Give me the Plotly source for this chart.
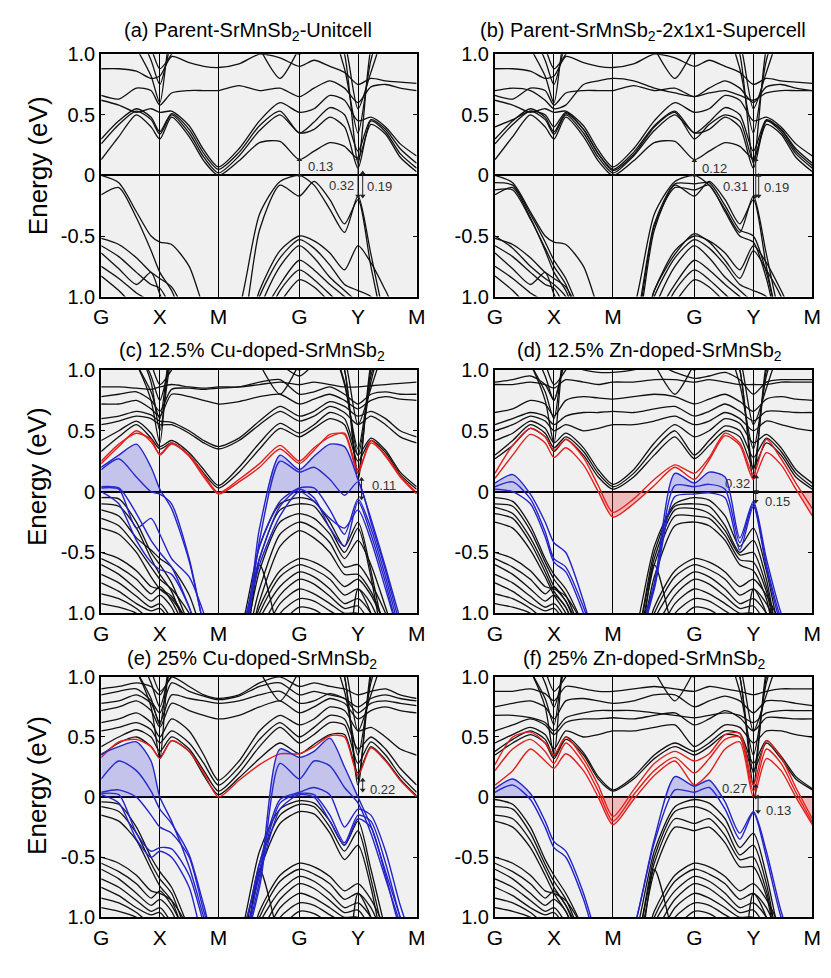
import plotly.graph_objects as go

# k-path positions G X M G Y M (path length units)
k = [0, 0.3, 0.6, 0.85, 1.0, 1.2, 1.5, 1.75, 2.0, 2.35, 2.7, 3.05,
     3.38, 3.63, 3.9, 4.15, 4.38, 4.6, 4.85, 5.1, 5.38]
sym_k = [0, 1.0, 2.0, 3.38, 4.38, 5.38]
sym_labels = ['G', 'X', 'M', 'G', 'Y', 'M']
e_ticks = [-1, -0.5, 0, 0.5, 1]
e_ticktext = ['1.0', '-0.5', '0', '0.5', '1.0']

titles = ['(a) Parent-SrMnSb<sub>2</sub>-Unitcell',
          '(b) Parent-SrMnSb<sub>2</sub>-2x1x1-Supercell',
          '(c) 12.5% Cu-doped-SrMnSb<sub>2</sub>',
          '(d) 12.5% Zn-doped-SrMnSb<sub>2</sub>',
          '(e) 25% Cu-doped-SrMnSb<sub>2</sub>',
          '(f) 25% Zn-doped-SrMnSb<sub>2</sub>']

# steep bands around X and Y (seen in every panel)
spikes = [
    [1.40, 1.30, 1.05, 0.82, 0.60, 1.20, 1.40, 1.40, 1.40, 1.40, 1.40, 1.40, 1.40, 1.40, 1.30, 1.00, 0.10, 1.05, 1.40, 1.40, 1.40],
    [1.40, 1.40, 1.20, 0.95, 0.75, 1.10, 1.40, 1.40, 1.40, 1.40, 1.20, 1.10, 1.00, 1.10, 1.20, 0.88, 0.35, 0.95, 1.30, 1.40, 1.40],
    [1.40, 1.40, 1.30, 1.05, 0.88, 1.00, 1.30, 1.40, 1.40, 1.40, 1.05, 0.80, 1.05, 1.25, 1.30, 1.10, 0.55, 0.85, 1.20, 1.40, 1.40],
]

# parent unit cell
a_black = [
    [0.13, 0.32, 0.50, 0.40, 0.30, 0.48, 0.32, 0.12, 0.00, 0.12, 0.27, 0.28, 0.13, 0.20, 0.27, 0.24, 0.14, 0.42, 0.34, 0.15, 0.03],
    [0.26, 0.42, 0.53, 0.46, 0.34, 0.50, 0.35, 0.15, 0.02, 0.16, 0.37, 0.50, 0.35, 0.38, 0.48, 0.40, 0.06, 0.45, 0.36, 0.18, 0.06],
    [0.30, 0.45, 0.55, 0.48, 0.36, 0.51, 0.38, 0.18, 0.05, 0.19, 0.41, 0.53, 0.35, 0.44, 0.56, 0.50, 0.20, 0.46, 0.38, 0.22, 0.10],
    [0.62, 0.58, 0.52, 0.55, 0.52, 0.53, 0.41, 0.21, 0.07, 0.22, 0.45, 0.60, 0.52, 0.55, 0.66, 0.62, 0.45, 0.48, 0.40, 0.26, 0.16],
    [0.66, 0.63, 0.72, 0.70, 0.58, 0.68, 0.70, 0.70, 0.70, 0.74, 0.70, 0.72, 0.65, 0.72, 0.78, 0.72, 0.60, 0.73, 0.75, 0.72, 0.70],
    [0.88, 0.88, 0.86, 0.80, 0.82, 0.98, 0.93, 0.90, 0.89, 0.92, 1.00, 0.97, 0.90, 0.95, 0.90, 0.85, 0.75, 0.80, 0.78, 0.77, 0.76],
    [0.00, -0.06, -0.30, -0.50, -0.55, -0.57, -0.75, -1.10, -1.40, -1.10, -0.32, -0.05, 0.00, -0.08, -0.28, -0.47, -0.17, -0.65, -1.20, -1.50, -1.60],
    [-0.16, -0.10, -0.35, -0.62, -0.80, -0.95, -1.30, -1.50, -1.60, -1.40, -0.45, -0.08, -0.17, -0.05, -0.20, -0.40, -0.20, -0.75, -1.30, -1.60, -1.60],
    [-0.52, -0.57, -0.68, -0.80, -0.85, -0.92, -1.20, -1.50, -1.60, -1.50, -0.95, -0.62, -0.50, -0.54, -0.64, -0.78, -0.58, -0.72, -0.95, -1.20, -1.40],
    [-0.58, -0.67, -0.80, -0.90, -0.93, -1.10, -1.40, -1.60, -1.60, -1.60, -1.00, -0.68, -0.53, -0.60, -0.74, -0.90, -0.95, -1.00, -1.20, -1.40, -1.60],
    [-0.64, -0.77, -0.90, -0.80, -0.98, -1.20, -1.50, -1.60, -1.60, -1.60, -1.10, -0.75, -0.58, -0.68, -0.84, -0.95, -1.05, -1.20, -1.40, -1.60, -1.60],
    [-0.75, -0.85, -0.97, -1.05, -1.20, -1.40, -1.60, -1.60, -1.60, -1.60, -1.20, -0.90, -0.70, -0.78, -0.90, -1.00, -1.10, -1.30, -1.50, -1.60, -1.60],
    [-0.83, -0.95, -1.10, -1.20, -1.30, -1.50, -1.60, -1.60, -1.60, -1.60, -1.30, -0.95, -0.78, -0.86, -0.98, -1.10, -1.20, -1.40, -1.60, -1.60, -1.60],
    [-1.60, -1.60, -1.60, -1.60, -1.60, -1.60, -1.60, -1.60, -1.60, -1.60, -1.30, -1.05, -0.86, -0.92, -1.05, -1.20, -1.30, -1.50, -1.60, -1.60, -1.60],
]

# extra folded bands of the 2x1x1 supercell
b_extra = [
    [-0.06, -0.08, -0.32, -0.55, -0.70, -0.85, -1.20, -1.50, -1.60, -1.30, -0.40, -0.07, -0.07, -0.06, -0.25, -0.45, -0.50, -0.80, -1.30, -1.60, -1.60],
    [-0.12, -0.12, -0.36, -0.60, -0.75, -0.90, -1.30, -1.50, -1.60, -1.35, -0.42, -0.10, -0.12, -0.08, -0.30, -0.50, -0.55, -0.85, -1.35, -1.60, -1.60],
    [0.40, 0.46, 0.53, 0.50, 0.40, 0.52, 0.38, 0.18, 0.04, 0.17, 0.40, 0.52, 0.30, 0.42, 0.50, 0.45, 0.12, 0.45, 0.38, 0.20, 0.08],
    [0.70, 0.72, 0.70, 0.62, 0.55, 0.58, 0.75, 0.78, 0.80, 0.78, 0.72, 0.68, 0.65, 0.68, 0.70, 0.66, 0.62, 0.68, 0.70, 0.70, 0.70],
    [-0.50, -0.60, -0.75, -0.85, -0.90, -1.00, -1.30, -1.60, -1.60, -1.60, -0.95, -0.65, -0.48, -0.55, -0.70, -0.85, -0.62, -0.78, -1.00, -1.30, -1.60],
]

# deep valence bands common to the doped cells
deep_vb = [
    [-0.50, -0.55, -0.65, -0.78, -0.80, -0.86, -1.10, -1.40, -1.60, -1.50, -0.95, -0.65, -0.55, -0.58, -0.66, -0.78, -0.72, -0.85, -1.10, -1.40, -1.60],
    [-0.55, -0.62, -0.72, -0.84, -0.78, -0.90, -1.20, -1.50, -1.60, -1.55, -1.00, -0.70, -0.60, -0.64, -0.72, -0.85, -0.80, -0.92, -1.20, -1.50, -1.60],
    [-0.60, -0.68, -0.80, -0.90, -0.85, -0.95, -1.30, -1.60, -1.60, -1.60, -1.05, -0.78, -0.66, -0.70, -0.80, -0.92, -0.88, -1.00, -1.30, -1.60, -1.60],
    [-0.68, -0.75, -0.86, -0.95, -0.92, -1.05, -1.40, -1.60, -1.60, -1.60, -1.15, -0.85, -0.72, -0.76, -0.86, -0.96, -0.94, -1.10, -1.40, -1.60, -1.60],
    [-0.75, -0.82, -0.92, -0.98, -0.96, -1.10, -1.50, -1.60, -1.60, -1.60, -1.25, -0.92, -0.80, -0.84, -0.92, -1.00, -1.00, -1.20, -1.50, -1.60, -1.60],
    [-0.84, -0.88, -0.96, -1.05, -1.00, -1.20, -1.60, -1.60, -1.60, -1.60, -1.35, -1.00, -0.88, -0.90, -0.98, -1.05, -1.10, -1.30, -1.60, -1.60, -1.60],
    [-0.92, -0.95, -1.00, -1.10, -1.10, -1.30, -1.60, -1.60, -1.60, -1.60, -1.45, -1.10, -0.95, -0.97, -1.05, -1.10, -1.20, -1.40, -1.60, -1.60, -1.60],
    [-1.60, -1.60, -1.60, -1.60, -1.60, -1.60, -1.60, -1.60, -1.60, -1.50, -0.60, -1.20, -1.60, -1.60, -1.60, -1.50, -0.80, -1.00, -1.60, -1.60, -1.60],
]

# 12.5% Cu
c_black = [
    [0.86, 0.86, 0.85, 0.84, 0.86, 0.88, 0.86, 0.85, 0.86, 0.86, 0.88, 0.90, 0.88, 0.90, 0.88, 0.86, 0.86, 0.87, 0.88, 0.89, 0.90],
    [0.33, 0.45, 0.55, 0.44, 0.35, 0.40, 0.30, 0.15, 0.03, 0.16, 0.35, 0.52, 0.45, 0.52, 0.60, 0.55, 0.25, 0.42, 0.32, 0.14, 0.02],
    [0.42, 0.50, 0.58, 0.48, 0.37, 0.42, 0.32, 0.18, 0.05, 0.20, 0.40, 0.56, 0.48, 0.55, 0.65, 0.60, 0.30, 0.44, 0.34, 0.16, 0.04],
    [0.55, 0.58, 0.62, 0.60, 0.55, 0.55, 0.48, 0.40, 0.35, 0.42, 0.55, 0.66, 0.58, 0.62, 0.70, 0.65, 0.55, 0.62, 0.55, 0.45, 0.40],
    [0.60, 0.62, 0.66, 0.63, 0.58, 0.57, 0.50, 0.42, 0.37, 0.44, 0.58, 0.70, 0.62, 0.66, 0.74, 0.70, 0.62, 0.66, 0.60, 0.50, 0.45],
    [0.72, 0.72, 0.75, 0.68, 0.62, 0.80, 0.78, 0.75, 0.72, 0.74, 0.78, 0.80, 0.72, 0.76, 0.80, 0.75, 0.68, 0.75, 0.78, 0.76, 0.75],
    [0.78, 0.80, 0.82, 0.75, 0.66, 0.84, 0.85, 0.84, 0.85, 0.86, 0.90, 0.92, 0.80, 0.82, 0.86, 0.80, 0.72, 0.80, 0.82, 0.80, 0.80],
    [1.40, 1.30, 1.05, 0.75, 0.40, 1.20, 1.40, 1.40, 1.40, 1.40, 1.40, 1.40, 1.40, 1.40, 1.30, 1.00, 0.15, 1.00, 1.40, 1.40, 1.40],
    [1.40, 1.40, 1.20, 0.90, 0.50, 1.10, 1.40, 1.40, 1.40, 1.40, 1.20, 1.05, 0.95, 1.05, 1.20, 0.90, 0.30, 0.90, 1.30, 1.40, 1.40],
    [-0.05, -0.06, -0.25, -0.50, -0.60, -0.75, -1.10, -1.40, -1.50, -1.20, -0.45, -0.10, -0.05, -0.08, -0.25, -0.45, -0.25, -0.65, -1.20, -1.50, -1.50],
    [-0.10, -0.12, -0.30, -0.55, -0.68, -0.82, -1.20, -1.50, -1.50, -1.30, -0.55, -0.15, -0.10, -0.12, -0.30, -0.50, -0.30, -0.70, -1.30, -1.50, -1.50],
    [-0.15, -0.20, -0.38, -0.48, -0.55, -0.62, -0.85, -1.20, -1.50, -1.35, -0.65, -0.25, -0.18, -0.22, -0.35, -0.55, -0.40, -0.60, -0.95, -1.30, -1.50],
    [-0.22, -0.28, -0.45, -0.62, -0.72, -0.80, -1.00, -1.30, -1.50, -1.40, -0.80, -0.35, -0.25, -0.30, -0.42, -0.62, -0.60, -0.75, -1.00, -1.30, -1.50],
    [-0.30, -0.35, -0.50, -0.70, -0.80, -0.88, -1.10, -1.40, -1.50, -1.45, -0.90, -0.45, -0.32, -0.38, -0.50, -0.68, -0.68, -0.82, -1.10, -1.40, -1.50],
]
c_red = [
    [0.23, 0.37, 0.50, 0.41, 0.31, 0.40, 0.29, 0.12, -0.02, 0.08, 0.20, 0.35, 0.23, 0.34, 0.47, 0.47, 0.15, 0.42, 0.29, 0.12, -0.02],
    [0.25, 0.39, 0.48, 0.43, 0.30, 0.39, 0.30, 0.14, -0.01, 0.10, 0.23, 0.38, 0.25, 0.36, 0.45, 0.48, 0.18, 0.40, 0.30, 0.13, -0.01],
]
c_blue = [
    [0.20, 0.30, 0.39, 0.20, 0.02, -0.14, -0.57, -1.10, -1.50, -1.40, -0.30, 0.30, 0.18, 0.29, 0.39, 0.37, 0.10, -0.22, -0.62, -1.05, -1.50],
    [0.18, 0.27, 0.12, 0.00, -0.02, -0.10, -0.55, -1.10, -1.50, -1.40, -0.40, 0.25, 0.16, 0.20, 0.10, -0.03, 0.08, -0.25, -0.65, -1.10, -1.50],
    [0.04, 0.03, -0.18, -0.40, -0.50, -0.62, -0.95, -1.30, -1.50, -1.30, -0.45, -0.08, 0.03, 0.03, -0.15, -0.35, -0.06, -0.30, -0.70, -1.15, -1.50],
    [0.03, 0.02, -0.30, -0.22, -0.35, -0.55, -0.70, -1.00, -1.40, -1.20, -0.55, -0.12, 0.02, -0.05, -0.30, -0.45, -0.08, -0.35, -0.75, -1.20, -1.50],
    [0.00, -0.10, -0.40, -0.58, -0.64, -0.68, -0.95, -1.30, -1.50, -1.25, -0.60, -0.20, 0.00, -0.08, -0.22, -0.30, -0.15, -0.40, -0.80, -1.20, -1.50],
]

# 12.5% Zn
d_black = [
    [0.88, 0.88, 0.90, 0.88, 0.85, 0.92, 0.90, 0.88, 0.90, 0.90, 0.92, 0.92, 0.90, 0.92, 0.90, 0.88, 0.88, 0.88, 0.90, 0.90, 0.90],
    [0.27, 0.38, 0.52, 0.45, 0.33, 0.43, 0.30, 0.12, 0.02, 0.12, 0.30, 0.45, 0.27, 0.38, 0.50, 0.45, 0.20, 0.40, 0.30, 0.12, 0.02],
    [0.30, 0.42, 0.55, 0.48, 0.36, 0.45, 0.33, 0.15, 0.04, 0.15, 0.35, 0.50, 0.30, 0.42, 0.54, 0.50, 0.28, 0.44, 0.33, 0.15, 0.04],
    [0.42, 0.48, 0.58, 0.52, 0.40, 0.48, 0.36, 0.18, 0.06, 0.18, 0.40, 0.55, 0.45, 0.50, 0.60, 0.56, 0.40, 0.47, 0.36, 0.18, 0.07],
    [0.50, 0.55, 0.62, 0.58, 0.50, 0.55, 0.50, 0.52, 0.55, 0.55, 0.58, 0.62, 0.55, 0.58, 0.65, 0.60, 0.50, 0.58, 0.55, 0.52, 0.50],
    [0.55, 0.60, 0.65, 0.62, 0.55, 0.62, 0.65, 0.65, 0.66, 0.65, 0.68, 0.70, 0.62, 0.66, 0.72, 0.66, 0.58, 0.66, 0.66, 0.65, 0.65],
    [0.65, 0.68, 0.75, 0.72, 0.62, 0.75, 0.78, 0.77, 0.76, 0.78, 0.80, 0.78, 0.72, 0.76, 0.80, 0.74, 0.66, 0.76, 0.78, 0.76, 0.75],
    [0.90, 0.92, 0.95, 0.88, 0.75, 1.05, 1.00, 0.98, 0.98, 1.00, 1.05, 0.98, 0.93, 0.95, 0.98, 0.92, 0.80, 0.90, 0.92, 0.92, 0.92],
    [1.40, 1.30, 1.05, 0.75, 0.40, 1.20, 1.40, 1.40, 1.40, 1.40, 1.40, 1.40, 1.40, 1.40, 1.30, 1.00, 0.18, 1.00, 1.40, 1.40, 1.40],
    [-0.05, -0.08, -0.28, -0.55, -0.68, -0.80, -1.10, -1.40, -1.50, -1.20, -0.45, -0.10, -0.05, -0.07, -0.20, -0.45, -0.30, -0.65, -1.20, -1.50, -1.50],
    [-0.10, -0.12, -0.32, -0.58, -0.72, -0.85, -1.20, -1.50, -1.50, -1.30, -0.50, -0.12, -0.10, -0.12, -0.28, -0.50, -0.40, -0.72, -1.30, -1.50, -1.50],
    [-0.13, -0.18, -0.38, -0.62, -0.78, -0.90, -1.25, -1.50, -1.50, -1.30, -0.55, -0.15, -0.14, -0.18, -0.32, -0.52, -0.50, -0.78, -1.30, -1.50, -1.50],
    [-0.18, -0.22, -0.42, -0.66, -0.82, -0.95, -1.30, -1.50, -1.50, -1.35, -0.60, -0.20, -0.20, -0.22, -0.36, -0.56, -0.58, -0.82, -1.35, -1.50, -1.50],
    [-0.25, -0.30, -0.48, -0.70, -0.85, -1.00, -1.35, -1.50, -1.50, -1.40, -0.70, -0.28, -0.25, -0.28, -0.40, -0.60, -0.65, -0.88, -1.40, -1.50, -1.50],
]
d_red = [
    [0.15, 0.38, 0.52, 0.45, 0.34, 0.43, 0.28, 0.05, -0.17, -0.06, 0.10, 0.22, 0.15, 0.28, 0.48, 0.40, 0.14, 0.43, 0.27, 0.07, -0.14],
    [0.11, 0.30, 0.47, 0.40, 0.28, 0.36, 0.22, 0.00, -0.21, -0.10, 0.05, 0.20, 0.10, 0.26, 0.46, 0.38, 0.10, 0.32, 0.22, 0.02, -0.20],
]
d_blue = [
    [0.07, 0.14, -0.02, -0.25, -0.42, -0.50, -0.90, -1.30, -1.50, -1.30, -0.75, 0.15, 0.07, 0.16, 0.12, -0.38, -0.08, -0.55, -1.00, -1.30, -1.50],
    [0.04, 0.08, -0.06, -0.33, -0.55, -0.62, -0.95, -1.30, -1.50, -1.30, -0.78, 0.05, 0.04, 0.06, 0.02, -0.42, -0.10, -0.60, -1.05, -1.30, -1.50],
    [0.02, 0.00, -0.10, -0.37, -0.58, -0.66, -1.00, -1.35, -1.50, -1.35, -0.80, -0.04, -0.02, -0.01, -0.05, -0.48, -0.12, -0.62, -1.10, -1.35, -1.50],
]

# 25% Cu
e_black = [
    [0.90, 0.92, 0.95, 0.92, 0.85, 1.00, 0.92, 0.85, 0.82, 0.85, 0.95, 1.00, 0.92, 0.95, 0.92, 0.90, 0.85, 0.88, 0.90, 0.85, 0.82],
    [0.85, 0.88, 0.90, 0.80, 0.70, 0.95, 0.88, 0.84, 0.81, 0.84, 0.92, 0.95, 0.85, 0.88, 0.85, 0.82, 0.75, 0.82, 0.85, 0.82, 0.80],
    [0.35, 0.45, 0.50, 0.42, 0.33, 0.47, 0.38, 0.18, 0.02, 0.16, 0.32, 0.45, 0.36, 0.44, 0.52, 0.52, 0.20, 0.42, 0.31, 0.15, 0.01],
    [0.42, 0.50, 0.56, 0.50, 0.38, 0.50, 0.40, 0.22, 0.05, 0.20, 0.42, 0.58, 0.45, 0.52, 0.62, 0.60, 0.28, 0.46, 0.35, 0.18, 0.04],
    [0.55, 0.58, 0.62, 0.56, 0.45, 0.55, 0.45, 0.28, 0.10, 0.25, 0.48, 0.62, 0.50, 0.58, 0.68, 0.65, 0.40, 0.50, 0.40, 0.24, 0.10],
    [0.62, 0.65, 0.70, 0.62, 0.50, 0.65, 0.55, 0.35, 0.14, 0.30, 0.55, 0.68, 0.60, 0.65, 0.75, 0.72, 0.55, 0.58, 0.50, 0.40, 0.35],
    [0.72, 0.75, 0.80, 0.72, 0.58, 0.78, 0.72, 0.68, 0.65, 0.68, 0.75, 0.80, 0.70, 0.75, 0.82, 0.78, 0.65, 0.72, 0.75, 0.72, 0.70],
    [0.78, 0.80, 0.85, 0.78, 0.62, 0.85, 0.82, 0.80, 0.78, 0.80, 0.85, 0.88, 0.78, 0.80, 0.86, 0.82, 0.70, 0.78, 0.80, 0.78, 0.76],
    [1.40, 1.30, 1.05, 0.75, 0.32, 1.20, 1.40, 1.40, 1.40, 1.40, 1.40, 1.40, 1.40, 1.40, 1.30, 1.00, 0.15, 1.00, 1.40, 1.40, 1.40],
    [-0.04, -0.06, -0.25, -0.50, -0.62, -0.75, -1.10, -1.40, -1.50, -1.20, -0.45, -0.10, -0.03, -0.05, -0.20, -0.40, -0.20, -0.60, -1.10, -1.50, -1.50],
    [-0.08, -0.12, -0.30, -0.55, -0.68, -0.80, -1.20, -1.50, -1.50, -1.30, -0.55, -0.15, -0.06, -0.08, -0.25, -0.45, -0.28, -0.68, -1.20, -1.50, -1.50],
    [-0.15, -0.20, -0.36, -0.60, -0.74, -0.86, -1.25, -1.50, -1.50, -1.35, -0.62, -0.22, -0.12, -0.14, -0.30, -0.52, -0.40, -0.75, -1.30, -1.50, -1.50],
]
e_red = [
    [0.33, 0.46, 0.48, 0.42, 0.32, 0.47, 0.38, 0.20, 0.00, 0.14, 0.27, 0.36, 0.36, 0.42, 0.51, 0.50, 0.18, 0.41, 0.30, 0.14, 0.00],
]
e_blue = [
    [0.36, 0.42, 0.46, 0.30, 0.00, -0.20, -0.58, -1.00, -1.40, -1.30, -0.70, 0.40, 0.33, 0.38, 0.49, 0.25, 0.00, -0.24, -0.62, -1.00, -1.40],
    [0.15, 0.30, 0.22, 0.05, -0.10, -0.22, -0.48, -0.90, -1.30, -1.30, -0.75, 0.28, 0.15, 0.30, 0.26, 0.08, -0.05, -0.30, -0.68, -1.05, -1.40],
    [0.04, 0.06, 0.00, -0.15, -0.25, -0.30, -0.50, -0.95, -1.30, -1.20, -0.55, -0.02, 0.04, 0.08, 0.02, -0.25, -0.10, -0.15, -0.45, -0.90, -1.30],
    [0.03, 0.02, -0.30, -0.45, -0.42, -0.43, -0.65, -1.05, -1.40, -1.20, -0.60, -0.05, 0.03, 0.02, -0.15, -0.38, -0.15, -0.20, -0.55, -1.00, -1.40],
    [0.02, -0.05, -0.35, -0.50, -0.45, -0.50, -0.75, -1.20, -1.40, -1.30, -0.65, -0.10, 0.02, 0.00, -0.20, -0.40, -0.18, -0.25, -0.65, -1.10, -1.40],
]

# 25% Zn
f_black = [
    [0.88, 0.88, 0.90, 0.86, 0.80, 0.92, 0.90, 0.88, 0.88, 0.90, 0.92, 0.90, 0.88, 0.92, 0.90, 0.88, 0.85, 0.88, 0.90, 0.90, 0.90],
    [0.68, 0.68, 0.66, 0.62, 0.55, 0.66, 0.70, 0.72, 0.72, 0.72, 0.70, 0.68, 0.66, 0.68, 0.70, 0.68, 0.62, 0.70, 0.72, 0.72, 0.72],
    [0.35, 0.45, 0.52, 0.45, 0.32, 0.48, 0.35, 0.15, 0.05, 0.15, 0.32, 0.42, 0.35, 0.42, 0.52, 0.50, 0.22, 0.45, 0.32, 0.15, 0.06],
    [0.38, 0.48, 0.55, 0.48, 0.34, 0.50, 0.37, 0.17, 0.06, 0.17, 0.35, 0.45, 0.38, 0.45, 0.55, 0.53, 0.28, 0.47, 0.34, 0.17, 0.07],
    [0.45, 0.52, 0.58, 0.52, 0.40, 0.55, 0.50, 0.52, 0.55, 0.55, 0.58, 0.60, 0.42, 0.50, 0.60, 0.58, 0.45, 0.55, 0.55, 0.52, 0.50],
    [0.55, 0.60, 0.65, 0.60, 0.52, 0.62, 0.65, 0.65, 0.66, 0.65, 0.68, 0.70, 0.60, 0.65, 0.72, 0.66, 0.55, 0.66, 0.66, 0.65, 0.65],
    [0.75, 0.78, 0.80, 0.75, 0.65, 0.80, 0.82, 0.80, 0.78, 0.80, 0.85, 0.85, 0.75, 0.80, 0.84, 0.80, 0.70, 0.80, 0.80, 0.78, 0.76],
    [1.40, 1.30, 1.05, 0.75, 0.35, 1.20, 1.40, 1.40, 1.40, 1.40, 1.40, 1.40, 1.40, 1.40, 1.30, 1.00, 0.20, 1.00, 1.40, 1.40, 1.40],
    [-0.02, -0.06, -0.25, -0.52, -0.65, -0.80, -1.10, -1.40, -1.50, -1.20, -0.45, -0.08, -0.02, -0.05, -0.18, -0.42, -0.30, -0.65, -1.20, -1.50, -1.50],
    [-0.08, -0.10, -0.30, -0.56, -0.70, -0.85, -1.20, -1.50, -1.50, -1.30, -0.50, -0.12, -0.08, -0.12, -0.25, -0.48, -0.40, -0.72, -1.30, -1.50, -1.50],
    [-0.15, -0.18, -0.36, -0.60, -0.75, -0.90, -1.25, -1.50, -1.50, -1.30, -0.55, -0.18, -0.22, -0.18, -0.32, -0.52, -0.50, -0.78, -1.30, -1.50, -1.50],
    [-0.20, -0.25, -0.42, -0.65, -0.80, -0.95, -1.30, -1.50, -1.50, -1.35, -0.62, -0.25, -0.28, -0.25, -0.38, -0.58, -0.58, -0.82, -1.35, -1.50, -1.50],
]
f_red = [
    [0.27, 0.50, 0.54, 0.45, 0.35, 0.50, 0.32, 0.10, -0.16, 0.06, 0.28, 0.38, 0.30, 0.36, 0.52, 0.53, 0.10, 0.47, 0.33, 0.08, -0.18],
    [0.22, 0.40, 0.48, 0.38, 0.28, 0.45, 0.28, 0.05, -0.20, 0.02, 0.22, 0.33, 0.20, 0.32, 0.48, 0.50, 0.05, 0.40, 0.28, 0.04, -0.21],
    [0.10, 0.22, 0.40, 0.30, 0.24, 0.36, 0.22, 0.00, -0.23, -0.02, 0.18, 0.30, 0.10, 0.20, 0.40, 0.46, 0.00, 0.32, 0.22, 0.00, -0.23],
]
f_blue = [
    [0.07, 0.15, 0.03, -0.20, -0.37, -0.45, -0.80, -1.20, -1.50, -1.10, -0.35, 0.17, 0.09, 0.14, -0.04, -0.30, -0.12, -0.45, -0.95, -1.30, -1.50],
    [0.04, 0.10, -0.02, -0.25, -0.42, -0.50, -0.85, -1.25, -1.50, -1.10, -0.38, 0.06, 0.04, 0.08, -0.10, -0.35, -0.13, -0.50, -1.00, -1.30, -1.50],
]

# gap labels (k, E, text, anchor) and double arrows (k, E_from, E_to)
notes = [
    [(3.50, 0.07, '0.13', 'left'), (4.35, -0.08, '0.32', 'right'), (4.50, -0.09, '0.19', 'left')],
    [(3.48, 0.06, '0.12', 'left'), (4.32, -0.09, '0.31', 'right'), (4.52, -0.10, '0.19', 'left')],
    [(4.58, 0.05, '0.11', 'left')],
    [(4.36, 0.07, '0.32', 'right'), (4.55, -0.08, '0.15', 'left')],
    [(4.55, 0.06, '0.22', 'left')],
    [(4.30, 0.07, '0.27', 'right'), (4.56, -0.11, '0.13', 'left')],
]
arrows = [
    [(3.38, 0.0, 0.13), (4.38, 0.14, -0.17), (4.46, 0.02, -0.17)],
    [(3.38, 0.0, 0.12), (4.42, 0.13, -0.17), (4.47, 0.0, -0.17)],
    [(4.44, 0.10, -0.05)],
    [(4.43, 0.0, 0.12), (4.42, -0.01, -0.08)],
    [(4.46, 0.06, 0.14)],
    [(4.42, 0.0, 0.09), (4.46, 0.0, -0.12)],
]

panel_black = [a_black + spikes, a_black + b_extra + spikes,
               c_black + deep_vb + spikes, d_black + deep_vb + spikes,
               e_black + deep_vb + spikes, f_black + deep_vb + spikes]
panel_red = [[], [], c_red, d_red, e_red, f_red]
panel_blue = [[], [], c_blue, d_blue, e_blue, f_blue]
blue_fill = [None, None, c_blue[0], d_blue[0], e_blue[0], f_blue[0]]
red_fill = [None, None, None, d_red[1], None, f_red[2]]

W, H = 831, 978
col_px = [(87, 409), (489, 813)]
row_px = [(36, 284), (359, 608), (673, 919)]
title_px = [(237, 13), (640, 13), (241, 340), (647, 340), (241, 655), (642, 655)]
ylab_px = [150, 468, 784]

FONT = 'Liberation Sans, Arial, sans-serif'
BLACK, RED, BLUE = '#111111', '#e0201c', '#2323c8'

fig = go.Figure()
layout = {}
shapes = []
annotations = []


def ax(n):
    return '' if n == 1 else str(n)


def band(y, xa, ya, color, width=1.3):
    fig.add_trace(go.Scatter(x=k, y=y, mode='lines', xaxis='x' + xa, yaxis='y' + ya,
                             line=dict(color=color, width=width, shape='spline', smoothing=0.7),
                             hoverinfo='skip', showlegend=False))


extra = 7
for i in range(6):
    n = i + 1
    cx = col_px[i % 2]
    ry = row_px[i // 2]
    xd = [cx[0] / W, cx[1] / W]
    yd = [1 - ry[1] / H, 1 - ry[0] / H]
    ymid = (yd[0] + yd[1]) / 2

    shapes.append(dict(type='rect', xref='paper', yref='paper', x0=xd[0], x1=xd[1], y0=yd[0], y1=yd[1],
                       fillcolor='#f0f0f0', line=dict(width=0), layer='below'))

    layout['xaxis' + ax(n)] = dict(domain=xd, range=[0, 5.38], anchor='y' + ax(n),
                                   tickvals=sym_k, ticktext=sym_labels, ticks='',
                                   tickfont=dict(size=21, color='black', family=FONT),
                                   showgrid=True, gridcolor='black', gridwidth=1.2,
                                   zeroline=False, showline=True, linecolor='black',
                                   linewidth=2, mirror=True)
    layout['yaxis' + ax(n)] = dict(domain=yd, range=[-1, 1], anchor='x' + ax(n),
                                   tickvals=e_ticks, ticktext=e_ticktext, ticks='inside',
                                   ticklen=4, tickcolor='black',
                                   tickfont=dict(size=20, color='black', family=FONT),
                                   showgrid=False, zeroline=True, zerolinecolor='black',
                                   zerolinewidth=1.6, showline=True, linecolor='black',
                                   linewidth=2, mirror='allticks')

    for y in panel_black[i]:
        band(y, ax(n), ax(n), BLACK)
    for y in panel_red[i]:
        band(y, ax(n), ax(n), RED, 1.4)
    for y in panel_blue[i]:
        band(y, ax(n), ax(n), BLUE, 1.4)

    # small double arrows marking the gaps
    for kx, e0, e1 in arrows[i]:
        up = 'triangle-up' if e1 > e0 else 'triangle-down'
        down = 'triangle-down' if e1 > e0 else 'triangle-up'
        fig.add_trace(go.Scatter(x=[kx, kx], y=[e0, e1], mode='lines+markers',
                                 xaxis='x' + ax(n), yaxis='y' + ax(n),
                                 line=dict(color='#222222', width=1),
                                 marker=dict(symbol=[down, up], size=5, color='#222222'),
                                 hoverinfo='skip', showlegend=False))

    # shaded pockets: drawn on half-height axes so the library clips them at E = 0
    for fill_band, half, rng, fcol in [(blue_fill[i], [ymid, yd[1]], [0, 1], 'rgba(60,60,220,0.25)'),
                                       (red_fill[i], [yd[0], ymid], [-1, 0], 'rgba(235,40,40,0.27)')]:
        if fill_band is None:
            continue
        m = str(extra)
        extra += 1
        layout['xaxis' + m] = dict(domain=xd, range=[0, 5.38], visible=False, anchor='y' + m)
        layout['yaxis' + m] = dict(domain=half, range=rng, visible=False, anchor='x' + m)
        fig.add_trace(go.Scatter(x=k, y=fill_band, mode='lines', xaxis='x' + m, yaxis='y' + m,
                                 line=dict(width=0, shape='spline', smoothing=0.7),
                                 fill='tozeroy', fillcolor=fcol,
                                 hoverinfo='skip', showlegend=False))

    tx, ty = title_px[i]
    annotations.append(dict(x=tx / W, y=1 - ty / H, xref='paper', yref='paper', text=titles[i],
                            showarrow=False, xanchor='center', yanchor='middle',
                            font=dict(size=20, color='black', family=FONT)))
    if i % 2 == 0:
        annotations.append(dict(x=22 / W, y=1 - ylab_px[i // 2] / H, xref='paper', yref='paper',
                                text='Energy (eV)', textangle=-90, showarrow=False,
                                xanchor='center', yanchor='middle',
                                font=dict(size=26, color='black', family=FONT)))
    for kx, ey, txt, anc in notes[i]:
        annotations.append(dict(x=kx, y=ey, xref='x' + ax(n), yref='y' + ax(n), text=txt,
                                showarrow=False, xanchor=anc, yanchor='middle',
                                font=dict(size=13, color='#333333', family=FONT)))

fig.update_layout(width=W, height=H, margin=dict(l=0, r=0, t=0, b=0),
                  paper_bgcolor='white', plot_bgcolor='rgba(0,0,0,0)',
                  shapes=shapes, annotations=annotations, showlegend=False, **layout)

fig.write_html("out.html")
